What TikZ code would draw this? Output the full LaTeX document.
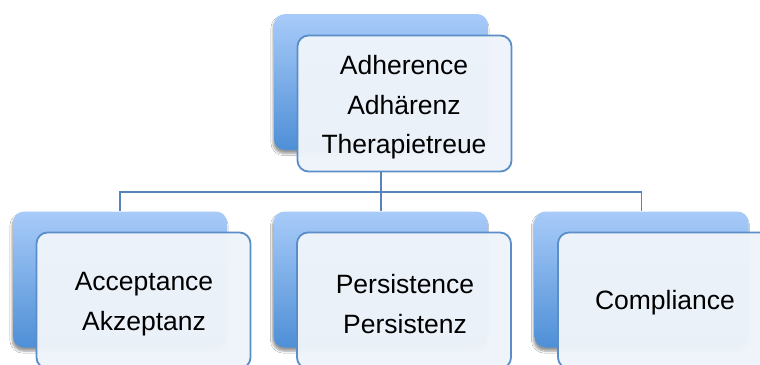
\documentclass[tikz,border=0pt]{standalone}
\usepackage{fontspec}
\setmainfont{Liberation Sans}
\usetikzlibrary{shadows.blur}
\definecolor{backtop}{HTML}{A8CBF9}
\definecolor{backbot}{HTML}{4E8FD6}
\definecolor{frontfill}{HTML}{EFF4FA}
\definecolor{frontline}{HTML}{5B8DC8}
\definecolor{linkcol}{HTML}{5683BA}
\begin{document}
\begin{tikzpicture}[x=1pt,y=-1pt,
  backbox/.style={rectangle, rounded corners=11pt, minimum width=214pt, minimum height=136pt,
    inner sep=0pt, top color=backtop, bottom color=backbot, draw=none,
    blur shadow={shadow xshift=-1pt, shadow yshift=-3.5pt, shadow opacity=40, shadow blur steps=6}},
  frontbox/.style={rectangle, rounded corners=11pt, minimum width=214pt, minimum height=136pt,
    inner sep=0pt, fill=frontfill, fill opacity=0.97, draw=frontline, line width=1.8pt, draw opacity=1},
  lbl/.style={align=center, inner sep=0pt, text=black, font=\fontsize{26.5}{39.5}\selectfont},
  link/.style={draw=linkcol, line width=1.8pt}
]
\useasboundingbox (0,0) rectangle (760,364);
\fill[white] (0,0) rectangle (760,364);
% back boxes
\node[backbox] (tb) at (381,82) {};
\node[backbox] (lb) at (120,279.5) {};
\node[backbox] (mb) at (380.5,279.5) {};
\node[backbox] (rb) at (641.5,279.5) {};
% connectors
\coordinate (bus) at (0,192);
\draw[link] (tb |- bus) -| (lb.north);
\draw[link] (tb |- bus) -| (rb.north);
\draw[link] (tb |- bus) -- (mb.north -| tb);
% front boxes
\node[frontbox] (tf) at (404.5,103.5) {};
\node[frontbox] (lf) at (143.5,300.5) {};
\node[frontbox] (mf) at (404,300.5) {};
\node[frontbox] (rf) at (665,300.5) {};
\draw[link] (tb |- tf.south) -- (tb |- bus);
% texts
\node[lbl] (tt) at (404,107.5) {Adherence\\Adhärenz\\Therapietreue};
\node[lbl] (lt) at (144,304) {Acceptance\\Akzeptanz};
\node[lbl] (mt) at (405,304) {Persistence\\Persistenz};
\node[lbl] (rt) at (665,303) {Compliance};
\end{tikzpicture}
\end{document}
